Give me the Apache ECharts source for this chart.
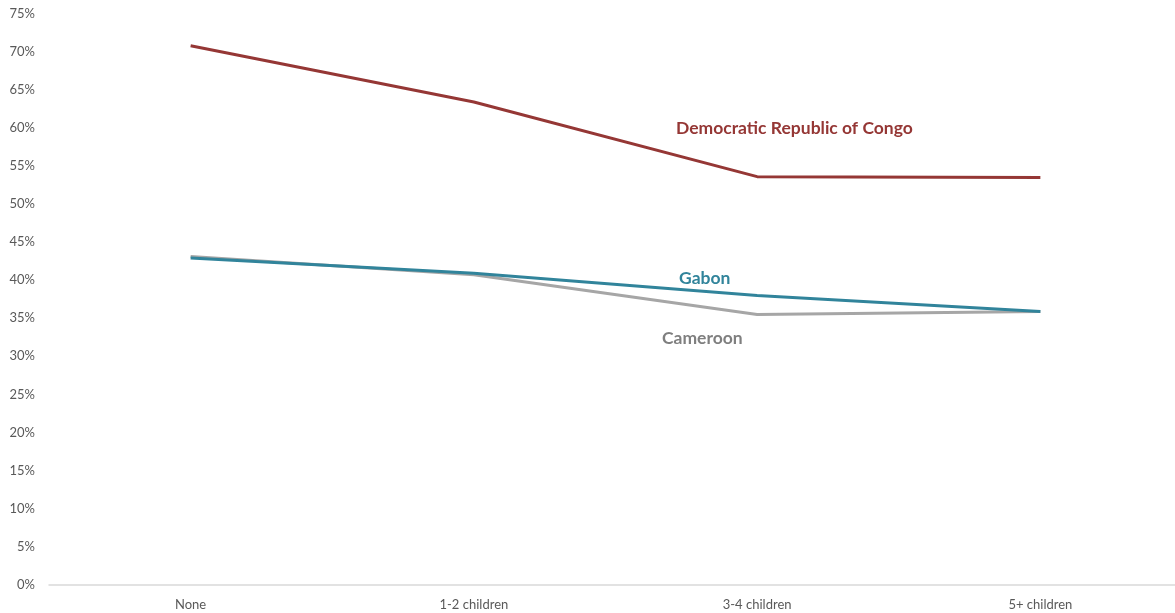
<!DOCTYPE html>
<html>
<head>
<meta charset="utf-8">
<script src="https://cdn.jsdelivr.net/npm/echarts@6/dist/echarts.min.js"></script>
<style>
html,body{margin:0;padding:0;background:#fff;overflow:hidden;width:1175px;height:613px;}
#chart{width:1182px;height:613px;}
</style>
</head>
<body>
<div id="chart"></div>
<script>
const categories = ['None', '1-2 children', '3-4 children', '5+ children'];
const drc = [70.8, 63.4, 53.6, 53.5];
const gabon = [42.9, 40.9, 38.0, 35.9];
const cameroon = [43.1, 40.7, 35.5, 35.9];
const yTicks = [0, 5, 10, 15, 20, 25, 30, 35, 40, 45, 50, 55, 60, 65, 70, 75];

const chart = echarts.init(document.getElementById('chart'));
const font = 'Lato, "Open Sans", sans-serif';
chart.setOption({
  animation: false,
  backgroundColor: '#ffffff',
  grid: { left: 49, right: 0, top: 13.7, bottom: 28.3, containLabel: false },
  xAxis: {
    type: 'category',
    data: categories,
    boundaryGap: true,
    axisLine: { lineStyle: { color: '#D9D9D9', width: 1.5 } },
    axisTick: { show: false },
    axisLabel: { color: '#595959', fontSize: 13, fontFamily: font, margin: 14 }
  },
  yAxis: {
    type: 'value',
    min: 0, max: 75, interval: 5,
    axisLine: { show: false },
    axisTick: { show: false },
    splitLine: { show: false },
    axisLabel: { color: '#595959', fontSize: 13, fontFamily: font, margin: 14,
      formatter: v => yTicks.includes(v) ? v + '%' : '' }
  },
  series: [
    { name: 'Cameroon', type: 'line', data: cameroon, symbol: 'none',
      lineStyle: { color: '#A6A6A6', width: 3 }, z: 2 },
    { name: 'Gabon', type: 'line', data: gabon, symbol: 'none',
      lineStyle: { color: '#31849B', width: 3 }, z: 3 },
    { name: 'Democratic Republic of Congo', type: 'line', data: drc, symbol: 'none',
      lineStyle: { color: '#953735', width: 3 }, z: 4 }
  ],
  graphic: [
    { type: 'text', left: 676, top: 119, style: { text: 'Democratic Republic of Congo', fill: '#953735', font: 'bold 17.5px ' + font } },
    { type: 'text', left: 679, top: 269, style: { text: 'Gabon', fill: '#31849B', font: 'bold 17.5px ' + font } },
    { type: 'text', left: 662, top: 329, style: { text: 'Cameroon', fill: '#7F7F7F', font: 'bold 17.5px ' + font } }
  ]
});
</script>
</body>
</html>
